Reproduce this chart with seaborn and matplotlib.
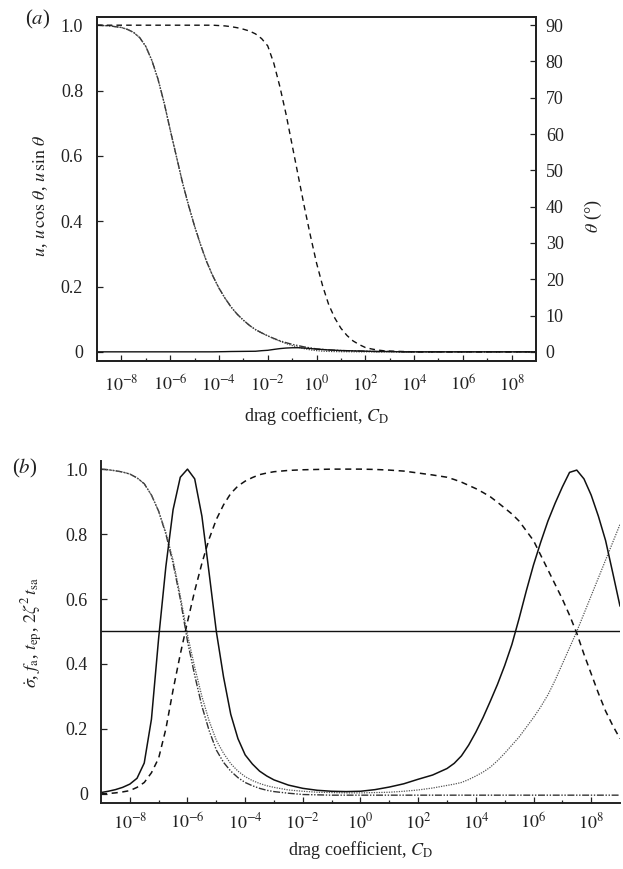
import numpy as np
import pandas as pd
import matplotlib
matplotlib.use('Agg')
import matplotlib.pyplot as plt
import seaborn as sns
from matplotlib.ticker import FixedLocator, FixedFormatter, NullFormatter

# ---- data (log10 of drag coefficient) ----
log_cd_a = ([-9, -8.5]
            + [-8, -7.75, -7.5, -7.25, -7, -6.75, -6.5, -6.25, -6, -5.75, -5.5, -5.25, -5,
               -4.75, -4.5, -4.25, -4, -3.75, -3.5, -3.25, -3, -2.75, -2.5, -2.25, -2,
               -1.75, -1.5, -1.25, -1, -0.75, -0.5, -0.25, 0, 0.25, 0.5, 0.75, 1, 1.25,
               1.5, 1.75, 2, 2.25, 2.5, 2.75, 3]
            + [3.5, 4, 4.5, 5, 5.5, 6, 6.5, 7, 7.5, 8, 8.5, 9])
u = ([1.0, 0.998]
     + [0.993, 0.987, 0.978, 0.962, 0.935, 0.892, 0.835, 0.763, 0.68, 0.6,
        0.52, 0.449, 0.385, 0.327, 0.275, 0.232, 0.195, 0.164, 0.137, 0.115,
        0.097, 0.081, 0.068, 0.058, 0.049, 0.041, 0.034, 0.028, 0.023, 0.019,
        0.015, 0.012, 0.009, 0.0075, 0.006, 0.005, 0.004, 0.0035, 0.003, 0.0025,
        0.002, 0.0015, 0.001, 0.001, 0.001]
     + [0] * 12)
u_sin = ([1.0, 0.998]
         + [0.993, 0.987, 0.978, 0.962, 0.935, 0.892, 0.835, 0.763, 0.68, 0.6,
            0.52, 0.449, 0.385, 0.327, 0.275, 0.232, 0.195, 0.164, 0.137, 0.115,
            0.097, 0.081, 0.068, 0.0578, 0.0488, 0.040, 0.0325, 0.0255, 0.0193, 0.0142,
            0.0096, 0.006, 0.0037, 0.0022, 0.0013, 0.0008, 0.0005, 0.0003, 0.0002, 0,
            0, 0, 0, 0, 0]
         + [0] * 12)
u_cos = ([0, 0]
         + [0] * 16
         + [0.0003, 0.0006, 0.001, 0.0012, 0.0014, 0.0016, 0.0018, 0.0035, 0.0047, 0.0074,
            0.0099, 0.0116, 0.0125, 0.0126, 0.0115, 0.0102, 0.0082, 0.0071, 0.0058, 0.0049,
            0.004, 0.0035, 0.003, 0.0025, 0.002, 0.0015, 0.001, 0.001, 0.001]
         + [0] * 12)
theta = ([90, 90]
         + [90] * 16
         + [89.9, 89.8, 89.6, 89.3, 88.9, 88.4, 87.6, 86.3, 84.3, 79.5,
            73, 65.5, 57, 48.5, 40, 32, 24.5, 18.2, 13, 9.3,
            6.5, 4.5, 3, 2, 1.2, 0.8, 0.5, 0.3, 0.2]
         + [0.1] + [0] * 11)

log_cd_b = ([-9, -8.75, -8.5, -8.25, -8, -7.75, -7.5, -7.25, -7, -6.75, -6.5, -6.25, -6,
             -5.75, -5.5, -5.25, -5, -4.75, -4.5, -4.25, -4, -3.75, -3.5, -3.25, -3]
            + [-2.5, -2, -1.5, -1, -0.5, 0, 0.5, 1, 1.5, 2, 2.5]
            + [3, 3.25, 3.5, 3.75, 4, 4.25, 4.5, 4.75, 5, 5.25, 5.5, 5.75, 6, 6.25, 6.5,
               6.75, 7, 7.25, 7.5, 7.75, 8, 8.25, 8.5, 8.75, 9])
sigma_dot = ([0.004, 0.008, 0.013, 0.02, 0.03, 0.048, 0.095, 0.23, 0.48, 0.7,
              0.875, 0.975, 1.0, 0.97, 0.855, 0.68, 0.5, 0.36, 0.245, 0.17,
              0.12, 0.092, 0.07, 0.055, 0.043]
             + [0.027, 0.017, 0.011, 0.008, 0.007, 0.008, 0.013, 0.021, 0.031, 0.045, 0.058]
             + [0.078, 0.094, 0.117, 0.15, 0.19, 0.235, 0.285, 0.337, 0.395, 0.46,
                0.54, 0.625, 0.705, 0.775, 0.84, 0.895, 0.945, 0.99, 0.997, 0.97,
                0.92, 0.855, 0.78, 0.68, 0.578])
f_a = ([0.0, 0.001, 0.003, 0.006, 0.01, 0.02, 0.035, 0.065, 0.11, 0.2,
        0.32, 0.43, 0.53, 0.625, 0.71, 0.785, 0.845, 0.89, 0.925, 0.948,
        0.963, 0.974, 0.983, 0.988, 0.992]
       + [0.996, 0.998, 0.999, 1.0, 1.0, 1.0, 0.999, 0.997, 0.994, 0.988, 0.982]
       + [0.975, 0.968, 0.96, 0.95, 0.94, 0.928, 0.915, 0.898, 0.88, 0.862,
          0.84, 0.81, 0.78, 0.735, 0.69, 0.645, 0.6, 0.55, 0.495, 0.43,
          0.37, 0.31, 0.255, 0.21, 0.17])
t_ep = ([1.0, 0.998, 0.995, 0.991, 0.985, 0.973, 0.955, 0.92, 0.87, 0.8,
         0.71, 0.6, 0.47, 0.365, 0.27, 0.195, 0.135, 0.097, 0.07, 0.05,
         0.035, 0.025, 0.017, 0.011, 0.007]
        + [0.002, -0.002, -0.003] + [-0.004] * 8
        + [-0.004] * 25)
t_sa = ([1.0, 0.998, 0.995, 0.991, 0.985, 0.973, 0.955, 0.92, 0.87, 0.805,
         0.72, 0.61, 0.49, 0.39, 0.3, 0.225, 0.165, 0.125, 0.093, 0.07,
         0.053, 0.041, 0.032, 0.025, 0.02]
        + [0.012, 0.008, 0.005, 0.004, 0.003, 0.003, 0.004, 0.005, 0.008, 0.012, 0.018]
        + [0.026, 0.03, 0.035, 0.044, 0.055, 0.067, 0.082, 0.102, 0.125, 0.15,
           0.175, 0.205, 0.235, 0.268, 0.305, 0.35, 0.4, 0.45, 0.5, 0.555,
           0.61, 0.665, 0.72, 0.775, 0.83])
half_level = 0.5

major_exp = [-8, -6, -4, -2, 0, 2, 4, 6, 8]
minor_exp = [-7, -5, -3, -1, 1, 3, 5, 7]
y_ticks = [0, 0.2, 0.4, 0.6, 0.8, 1.0]
y_labels = ['0', '0.2', '0.4', '0.6', '0.8', '1.0']
theta_ticks = [0, 10, 20, 30, 40, 50, 60, 70, 80, 90]

# ---- style ----
sns.set_theme(style='ticks')
plt.rcParams['font.family'] = ['Liberation Serif', 'DejaVu Serif']
plt.rcParams['mathtext.fontset'] = 'stix'
plt.rcParams['axes.edgecolor'] = '#222222'
plt.rcParams['axes.linewidth'] = 1.4

df_a = pd.DataFrame({'cd': 10.0 ** np.array(log_cd_a), 'u': u, 'u_sin': u_sin,
                     'u_cos': u_cos, 'theta': theta})
df_b = pd.DataFrame({'cd': 10.0 ** np.array(log_cd_b), 'sigma': sigma_dot, 'fa': f_a,
                     'tep': t_ep, 'tsa': t_sa})

dashed = (0, (4, 3))
dashdot = (0, (5, 1.2, 1, 1.2, 1, 1.2))
dotted = (0, (1, 1))
ink = '#222222'

fig = plt.figure(figsize=(6.23, 8.69), dpi=100)
ax_a = fig.add_axes([0.1557, 0.5846, 0.7047, 0.3958])
ax_b = fig.add_axes([0.1621, 0.0760, 0.8331, 0.3935])
ax_a.set_xscale('log')
ax_b.set_xscale('log')
ax_t = ax_a.twinx()


def style_axes(ax, xpad, ypad):
    ax.set_xscale('log')
    ax.set_xlim(1e-9, 1e9)
    ax.set_ylim(-0.028, 1.025)
    ax.xaxis.set_major_locator(FixedLocator(10.0 ** np.array(major_exp, dtype=float)))
    ax.xaxis.set_major_formatter(FixedFormatter([r'$10^{%d}$' % e for e in major_exp]))
    ax.xaxis.set_minor_locator(FixedLocator(10.0 ** np.array(minor_exp, dtype=float)))
    ax.xaxis.set_minor_formatter(NullFormatter())
    ax.yaxis.set_major_locator(FixedLocator(y_ticks))
    ax.yaxis.set_major_formatter(FixedFormatter(y_labels))
    ax.yaxis.set_minor_locator(FixedLocator([]))
    ax.tick_params(axis='x', which='major', direction='in', length=4.3, width=0.9,
                   pad=xpad, labelsize=13, colors=ink)
    ax.tick_params(axis='x', which='minor', direction='in', length=2.4, width=0.9,
                   colors=ink)
    ax.tick_params(axis='y', which='major', direction='in', length=4.3, width=0.9,
                   pad=ypad, labelsize=13, colors=ink)
    ax.set_xlabel(r'drag coefficient, $C_\mathrm{D}$', fontsize=13, color=ink)


# ---- panel (a) ----
sns.lineplot(data=df_a, x='cd', y='u', ax=ax_a, color='#333333', lw=1.0, linestyle=dashdot)
sns.lineplot(data=df_a, x='cd', y='u_sin', ax=ax_a, color='#444444', lw=0.9, linestyle=dotted)
sns.lineplot(data=df_a, x='cd', y='u_cos', ax=ax_a, color='#111111', lw=1.0)
sns.lineplot(data=df_a, x='cd', y='theta', ax=ax_t, color='#111111', lw=1.0, linestyle=dashed)
style_axes(ax_a, 10, 10)
ax_a.set_ylabel(r'$u$, $u\,\cos\,\theta$, $u\,\sin\,\theta$', fontsize=13, color=ink)
ax_a.yaxis.set_label_coords(-0.107, 0.48)
ax_a.xaxis.set_label_coords(0.5, -0.128)

ax_t.set_ylim(-0.028 * 90, 1.025 * 90)
ax_t.yaxis.set_major_locator(FixedLocator(theta_ticks))
ax_t.yaxis.set_major_formatter(FixedFormatter([str(t) for t in theta_ticks]))
ax_t.tick_params(axis='y', direction='in', length=4.3, width=0.9, pad=7, labelsize=13,
                 colors=ink)
ax_t.set_ylabel(r'$\theta$ (°)', fontsize=13, color=ink)
ax_t.yaxis.set_label_coords(1.107, 0.42)

# ---- panel (b) ----
ax_b.axhline(half_level, color='#111111', lw=1.0)
sns.lineplot(data=df_b, x='cd', y='tep', ax=ax_b, color='#333333', lw=1.0, linestyle=dashdot)
sns.lineplot(data=df_b, x='cd', y='tsa', ax=ax_b, color='#555555', lw=0.9, linestyle=dotted)
sns.lineplot(data=df_b, x='cd', y='fa', ax=ax_b, color='#111111', lw=1.1, linestyle=dashed)
sns.lineplot(data=df_b, x='cd', y='sigma', ax=ax_b, color='#111111', lw=1.1)
style_axes(ax_b, 7, 9.5)
ax_b.spines['top'].set_visible(False)
ax_b.spines['right'].set_visible(False)
ax_b.set_ylabel(r'$\dot{\sigma}$, $f_\mathrm{a}$, $t_\mathrm{ep}$, $2\zeta^2\, t_\mathrm{sa}$',
                fontsize=13, color=ink)
ax_b.yaxis.set_label_coords(-0.108, 0.5)
ax_b.xaxis.set_label_coords(0.5, -0.105)

fig.text(38 / 623, 1 - 19 / 869, r'($a$)', fontsize=15, ha='center', va='center', color=ink)
fig.text(25 / 623, 1 - 468 / 869, r'($b$)', fontsize=15, ha='center', va='center', color=ink)

fig.savefig('out.png', dpi=100)
